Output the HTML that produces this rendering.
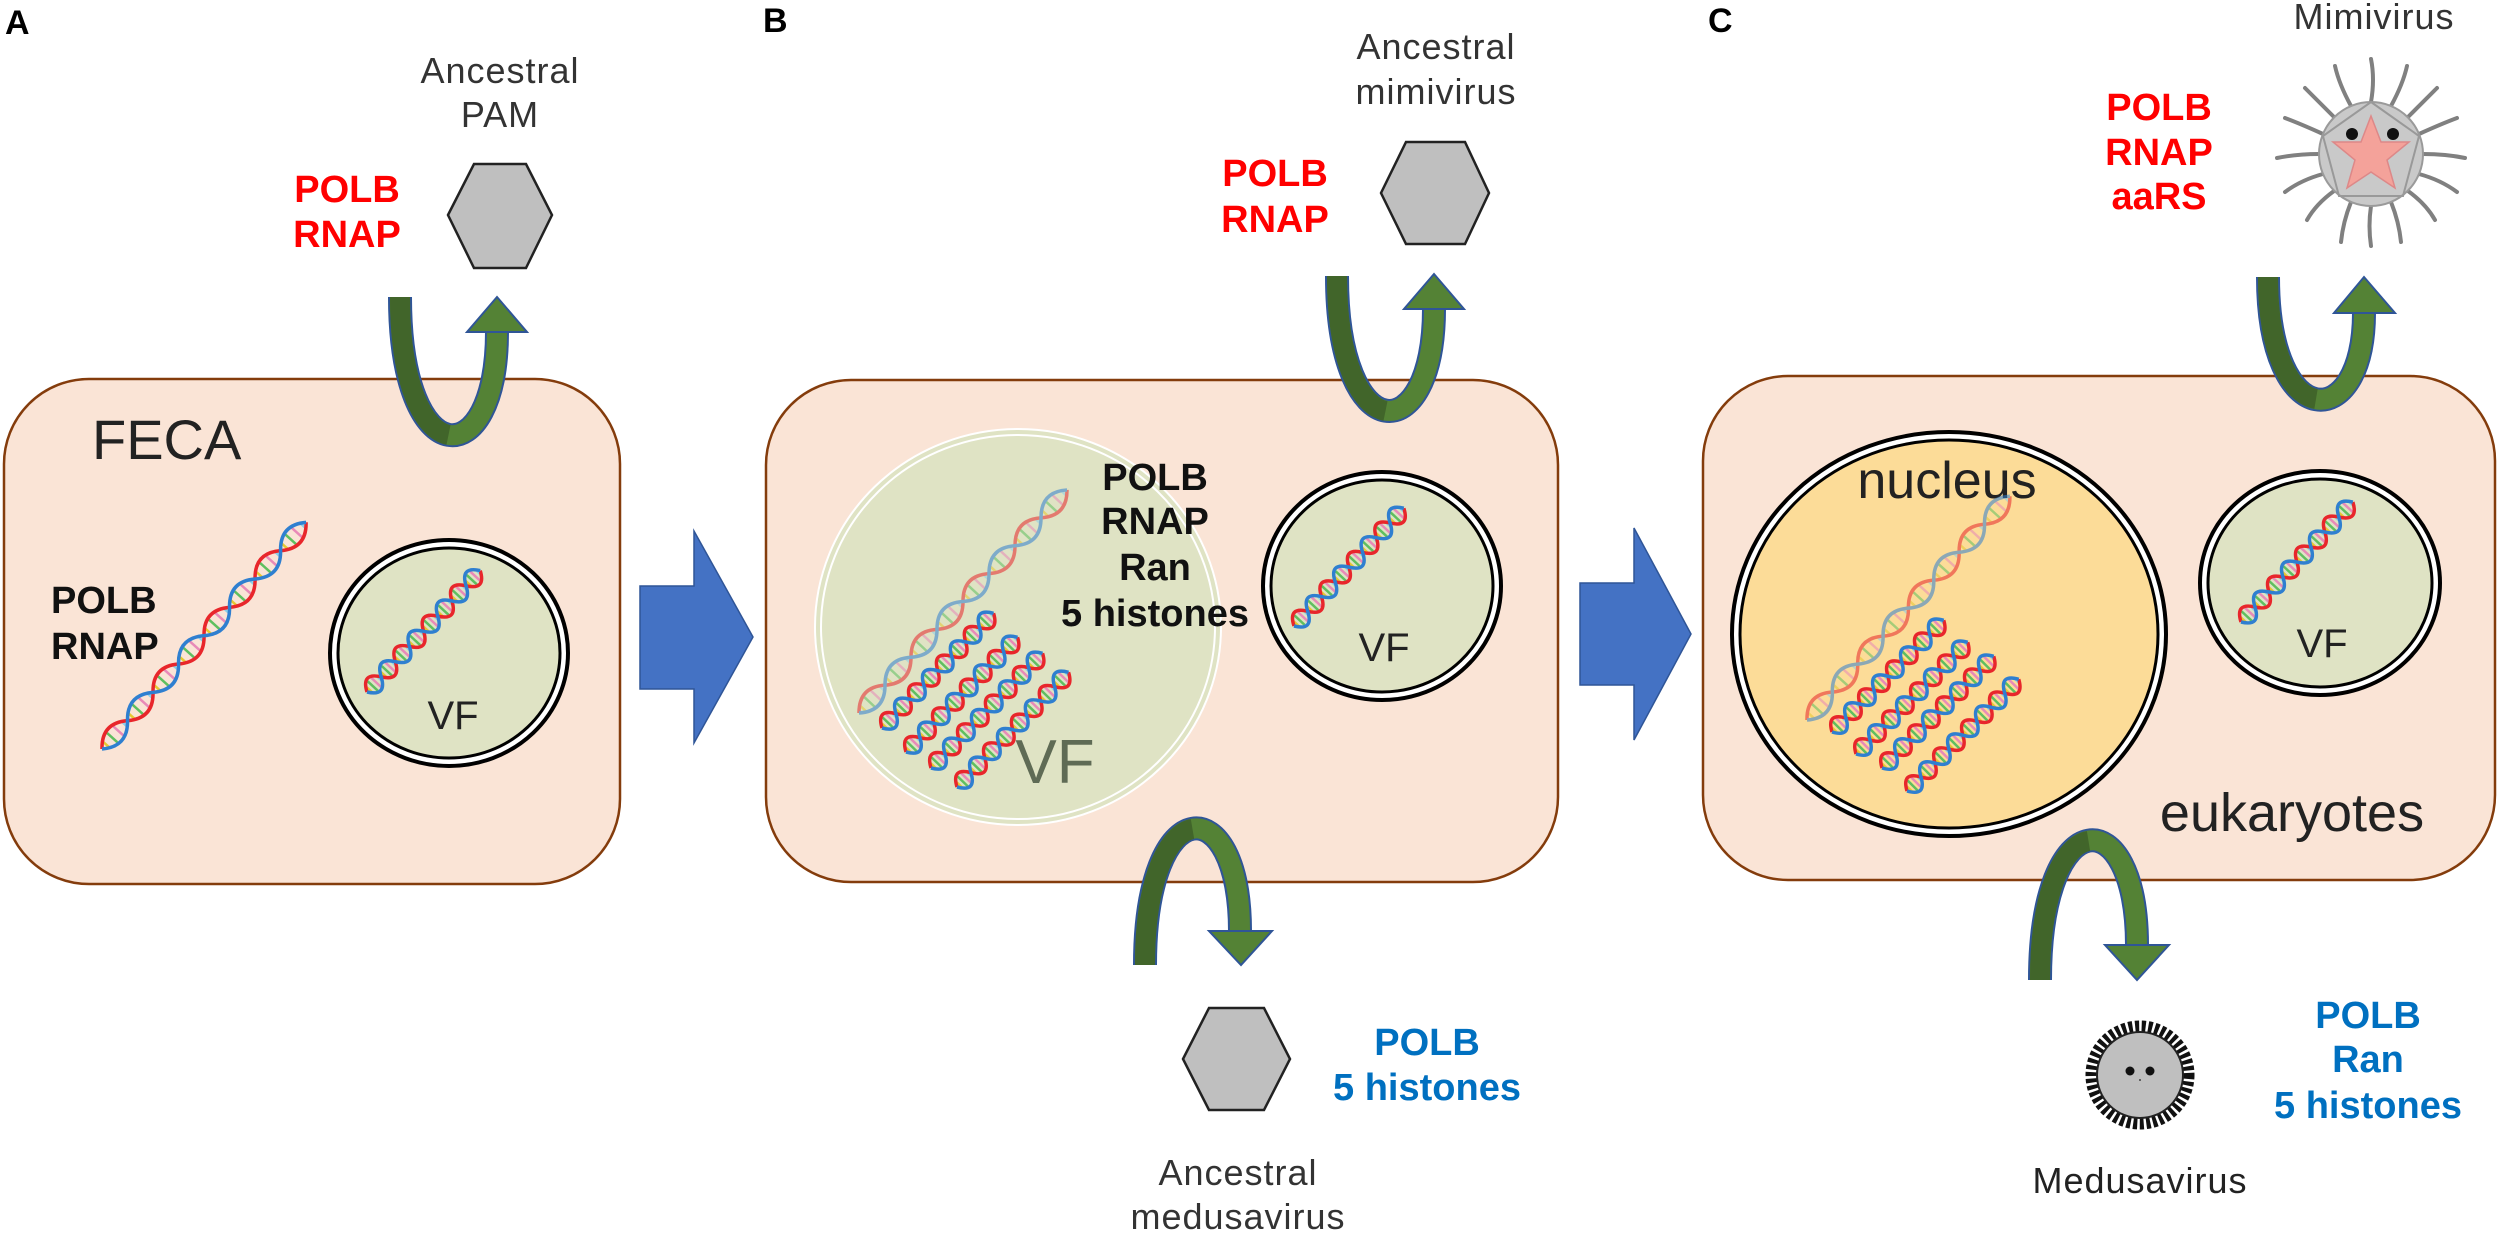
<!DOCTYPE html>
<html><head><meta charset="utf-8"><style>
html,body{margin:0;padding:0;background:#fff;}
svg{display:block;}
text{font-family:"Liberation Sans","DejaVu Sans",sans-serif;}
.t{fill:#222;}
.b{font-weight:bold;}
</style></head><body>
<svg width="2500" height="1234" viewBox="0 0 2500 1234" xmlns="http://www.w3.org/2000/svg">
<defs>
<g id="dna">
<g stroke-width="2.5">
<line x1="2" y1="-5" x2="2" y2="5" stroke="#e6c830" vector-effect="non-scaling-stroke"/>
<line x1="5" y1="-7" x2="5" y2="7" stroke="#5fbf5f" vector-effect="non-scaling-stroke"/>
<line x1="8" y1="-7" x2="8" y2="7" stroke="#e88ab8" vector-effect="non-scaling-stroke"/>
<line x1="11" y1="-5" x2="11" y2="5" stroke="#8ccfe8" vector-effect="non-scaling-stroke"/>
<line x1="14.5" y1="-5" x2="14.5" y2="5" stroke="#e6c830" vector-effect="non-scaling-stroke"/>
<line x1="17.5" y1="-7" x2="17.5" y2="7" stroke="#5fbf5f" vector-effect="non-scaling-stroke"/>
<line x1="20.5" y1="-7" x2="20.5" y2="7" stroke="#e88ab8" vector-effect="non-scaling-stroke"/>
<line x1="23.5" y1="-5" x2="23.5" y2="5" stroke="#8ccfe8" vector-effect="non-scaling-stroke"/>
<line x1="27" y1="-5" x2="27" y2="5" stroke="#e6c830" vector-effect="non-scaling-stroke"/>
<line x1="30" y1="-7" x2="30" y2="7" stroke="#5fbf5f" vector-effect="non-scaling-stroke"/>
<line x1="33" y1="-7" x2="33" y2="7" stroke="#e88ab8" vector-effect="non-scaling-stroke"/>
<line x1="36" y1="-5" x2="36" y2="5" stroke="#8ccfe8" vector-effect="non-scaling-stroke"/>
<line x1="39.5" y1="-5" x2="39.5" y2="5" stroke="#e6c830" vector-effect="non-scaling-stroke"/>
<line x1="42.5" y1="-7" x2="42.5" y2="7" stroke="#5fbf5f" vector-effect="non-scaling-stroke"/>
<line x1="45.5" y1="-7" x2="45.5" y2="7" stroke="#e88ab8" vector-effect="non-scaling-stroke"/>
<line x1="48.5" y1="-5" x2="48.5" y2="5" stroke="#8ccfe8" vector-effect="non-scaling-stroke"/>
<line x1="52" y1="-5" x2="52" y2="5" stroke="#e6c830" vector-effect="non-scaling-stroke"/>
<line x1="55" y1="-7" x2="55" y2="7" stroke="#5fbf5f" vector-effect="non-scaling-stroke"/>
<line x1="58" y1="-7" x2="58" y2="7" stroke="#e88ab8" vector-effect="non-scaling-stroke"/>
<line x1="61" y1="-5" x2="61" y2="5" stroke="#8ccfe8" vector-effect="non-scaling-stroke"/>
<line x1="64.5" y1="-5" x2="64.5" y2="5" stroke="#e6c830" vector-effect="non-scaling-stroke"/>
<line x1="67.5" y1="-7" x2="67.5" y2="7" stroke="#5fbf5f" vector-effect="non-scaling-stroke"/>
<line x1="70.5" y1="-7" x2="70.5" y2="7" stroke="#e88ab8" vector-effect="non-scaling-stroke"/>
<line x1="73.5" y1="-5" x2="73.5" y2="5" stroke="#8ccfe8" vector-effect="non-scaling-stroke"/>
<line x1="77" y1="-5" x2="77" y2="5" stroke="#e6c830" vector-effect="non-scaling-stroke"/>
<line x1="80" y1="-7" x2="80" y2="7" stroke="#5fbf5f" vector-effect="non-scaling-stroke"/>
<line x1="83" y1="-7" x2="83" y2="7" stroke="#e88ab8" vector-effect="non-scaling-stroke"/>
<line x1="86" y1="-5" x2="86" y2="5" stroke="#8ccfe8" vector-effect="non-scaling-stroke"/>
<line x1="89.5" y1="-5" x2="89.5" y2="5" stroke="#e6c830" vector-effect="non-scaling-stroke"/>
<line x1="92.5" y1="-7" x2="92.5" y2="7" stroke="#5fbf5f" vector-effect="non-scaling-stroke"/>
<line x1="95.5" y1="-7" x2="95.5" y2="7" stroke="#e88ab8" vector-effect="non-scaling-stroke"/>
<line x1="98.5" y1="-5" x2="98.5" y2="5" stroke="#8ccfe8" vector-effect="non-scaling-stroke"/>
</g>
<path d="M0,0 q6.25,-18 12.5,0 t12.5,0 t12.5,0 t12.5,0 t12.5,0 t12.5,0 t12.5,0 t12.5,0" fill="none" stroke="#e8262b" stroke-width="3.5" vector-effect="non-scaling-stroke"/>
<path d="M0,0 q6.25,18 12.5,0 t12.5,0 t12.5,0 t12.5,0 t12.5,0 t12.5,0 t12.5,0 t12.5,0" fill="none" stroke="#2f7fd0" stroke-width="3.5" vector-effect="non-scaling-stroke"/>
</g>
</defs>

<text x="5" y="34" class="b" font-size="34" fill="#000">A</text>
<text x="763" y="32" class="b" font-size="34" fill="#000">B</text>
<text x="1708" y="32" class="b" font-size="34" fill="#000">C</text>

<!-- ===== A ===== -->
<rect x="4" y="379" width="616" height="505" rx="85" fill="#fae4d6" stroke="#843c0c" stroke-width="2.5"/>
<text x="92" y="459" font-size="56" class="t">FECA</text>
<text x="51" y="613" font-size="38" class="b" fill="#111">POLB</text>
<text x="51" y="659" font-size="38" class="b" fill="#111">RNAP</text>
<use href="#dna" transform="translate(102,749) rotate(-48) scale(3.05,1)"/>
<ellipse cx="449" cy="653" rx="119" ry="113" fill="#fff" stroke="#000" stroke-width="4"/>
<ellipse cx="449" cy="653" rx="111" ry="105" fill="#dfe3c4" stroke="#000" stroke-width="3"/>
<use href="#dna" transform="translate(367,692) rotate(-47) scale(1.66,1)"/>
<text x="453" y="729" font-size="40" class="t" text-anchor="middle">VF</text>
<polygon points="640,586 694,586 694,531 753,637 694,743 694,689 640,689" fill="#4472c4" stroke="#2f5597" stroke-width="1.5"/>

<polygon points="448,215 474,164 526,164 552,215 526,268 474,268" fill="#bfbfbf" stroke="#222" stroke-width="2.5"/>
<text x="500" y="83" font-size="36" fill="#333" text-anchor="middle" letter-spacing="1">Ancestral</text>
<text x="500" y="127" font-size="36" fill="#333" text-anchor="middle" letter-spacing="1">PAM</text>
<text x="347" y="202" font-size="38" class="b" fill="#ff0000" text-anchor="middle">POLB</text>
<text x="347" y="247" font-size="38" class="b" fill="#ff0000" text-anchor="middle">RNAP</text>

<g>
<path d="M400,297 C400,475 497,475 497,332" fill="none" stroke="#2f5597" stroke-width="24"/>
<path d="M400,297 C400,475 497,475 497,332" fill="none" stroke="#548235" stroke-width="20"/>
<path d="M400,297 C400,386 424,430 448.5,435" fill="none" stroke="#41652a" stroke-width="20"/>
<polygon points="467,332 527,332 497,297" fill="#548235" stroke="#2f5597" stroke-width="2"/>
</g>

<!-- ===== B ===== -->
<rect x="766" y="380" width="792" height="502" rx="85" fill="#fae4d6" stroke="#843c0c" stroke-width="2.5"/>
<ellipse cx="1018" cy="627" rx="203" ry="198" fill="#dfe3c4" stroke="#fff" stroke-width="2"/>
<ellipse cx="1018" cy="627" rx="197" ry="192" fill="none" stroke="#fff" stroke-width="2"/>
<text x="1055" y="783" font-size="62" fill="#5f6b55" text-anchor="middle">VF</text>
<g opacity="0.55"><use href="#dna" transform="translate(859,713) rotate(-47) scale(3.05,1)"/></g>
<use href="#dna" transform="translate(882,728) rotate(-45.8) scale(1.6,1)"/>
<use href="#dna" transform="translate(906,752) rotate(-45.8) scale(1.6,1)"/>
<use href="#dna" transform="translate(931,768) rotate(-45.8) scale(1.6,1)"/>
<use href="#dna" transform="translate(957,787) rotate(-45.8) scale(1.6,1)"/>
<text x="1155" y="490" font-size="38" class="b" fill="#111" text-anchor="middle">POLB</text>
<text x="1155" y="534" font-size="38" class="b" fill="#111" text-anchor="middle">RNAP</text>
<text x="1155" y="580" font-size="38" class="b" fill="#111" text-anchor="middle">Ran</text>
<text x="1155" y="626" font-size="38" class="b" fill="#111" text-anchor="middle">5 histones</text>
<ellipse cx="1382" cy="586" rx="119" ry="114" fill="#fff" stroke="#000" stroke-width="4"/>
<ellipse cx="1382" cy="586" rx="111" ry="106" fill="#dfe3c4" stroke="#000" stroke-width="3"/>
<use href="#dna" transform="translate(1294,626) rotate(-47) scale(1.61,1)"/>
<text x="1384" y="661" font-size="40" class="t" text-anchor="middle">VF</text>
<polygon points="1580,583 1634,583 1634,528 1691,634 1634,740 1634,685 1580,685" fill="#4472c4" stroke="#2f5597" stroke-width="1.5"/>

<polygon points="1381,193 1406,142 1465,142 1489,193 1465,244 1406,244" fill="#bfbfbf" stroke="#222" stroke-width="2.5"/>
<text x="1436" y="59" font-size="36" fill="#333" text-anchor="middle" letter-spacing="1">Ancestral</text>
<text x="1436" y="104" font-size="36" fill="#333" text-anchor="middle" letter-spacing="1">mimivirus</text>
<text x="1275" y="186" font-size="38" class="b" fill="#ff0000" text-anchor="middle">POLB</text>
<text x="1275" y="232" font-size="38" class="b" fill="#ff0000" text-anchor="middle">RNAP</text>
<g>
<path d="M1337,276 C1337,450 1434,450 1434,309" fill="none" stroke="#2f5597" stroke-width="24"/>
<path d="M1337,276 C1337,450 1434,450 1434,309" fill="none" stroke="#548235" stroke-width="20"/>
<path d="M1337,276 C1337,363 1361,406 1385.5,411" fill="none" stroke="#41652a" stroke-width="20"/>
<polygon points="1404,309 1464,309 1434,274" fill="#548235" stroke="#2f5597" stroke-width="2"/>
</g>
<g>
<path d="M1145,965 C1145,789 1240,789 1240,931" fill="none" stroke="#2f5597" stroke-width="24"/>
<path d="M1145,965 C1145,789 1240,789 1240,931" fill="none" stroke="#548235" stroke-width="20"/>
<path d="M1145,965 C1145,877 1169,833 1192.5,829" fill="none" stroke="#41652a" stroke-width="20"/>
<polygon points="1209,931 1272,931 1241,965" fill="#548235" stroke="#2f5597" stroke-width="2"/>
</g>
<polygon points="1183,1059 1209,1008 1264,1008 1290,1059 1264,1110 1209,1110" fill="#bfbfbf" stroke="#222" stroke-width="2.5"/>
<text x="1238" y="1185" font-size="36" fill="#333" text-anchor="middle" letter-spacing="1">Ancestral</text>
<text x="1238" y="1229" font-size="36" fill="#333" text-anchor="middle" letter-spacing="1">medusavirus</text>
<text x="1427" y="1055" font-size="38" class="b" fill="#0070c0" text-anchor="middle">POLB</text>
<text x="1427" y="1100" font-size="38" class="b" fill="#0070c0" text-anchor="middle">5 histones</text>

<!-- ===== C ===== -->
<rect x="1703" y="376" width="792" height="504" rx="85" fill="#fae4d6" stroke="#843c0c" stroke-width="2.5"/>
<ellipse cx="1949" cy="634" rx="217" ry="202" fill="#fff" stroke="#000" stroke-width="4"/>
<ellipse cx="1949" cy="634" rx="209" ry="194" fill="#fcdc98" stroke="#000" stroke-width="3"/>
<text x="1947" y="498" font-size="52" class="t" text-anchor="middle">nucleus</text>
<g opacity="0.55"><use href="#dna" transform="translate(1807,720) rotate(-47.8) scale(3.02,1)"/></g>
<use href="#dna" transform="translate(1832,732) rotate(-45) scale(1.58,1)"/>
<use href="#dna" transform="translate(1856,754) rotate(-45) scale(1.58,1)"/>
<use href="#dna" transform="translate(1882,768) rotate(-45) scale(1.58,1)"/>
<use href="#dna" transform="translate(1907,791) rotate(-45) scale(1.58,1)"/>
<ellipse cx="2320" cy="583" rx="120" ry="112" fill="#fff" stroke="#000" stroke-width="4"/>
<ellipse cx="2320" cy="583" rx="112" ry="104" fill="#dfe3c4" stroke="#000" stroke-width="3"/>
<use href="#dna" transform="translate(2241,622) rotate(-47) scale(1.64,1)"/>
<text x="2322" y="657" font-size="40" class="t" text-anchor="middle">VF</text>
<text x="2292" y="831" font-size="54" class="t" text-anchor="middle">eukaryotes</text>

<text x="2374" y="29" font-size="36" fill="#333" text-anchor="middle" letter-spacing="1">Mimivirus</text>
<text x="2159" y="120" font-size="38" class="b" fill="#ff0000" text-anchor="middle">POLB</text>
<text x="2159" y="165" font-size="38" class="b" fill="#ff0000" text-anchor="middle">RNAP</text>
<text x="2159" y="209" font-size="38" class="b" fill="#ff0000" text-anchor="middle">aaRS</text>
<g transform="translate(2371,154)" stroke="#808080" stroke-width="4" fill="none" stroke-linecap="round">
<path d="M0,-52 Q4,-75 0,-95"/>
<path d="M20,-48 Q32,-70 36,-88"/>
<path d="M-20,-48 Q-32,-70 -36,-88"/>
<path d="M37,-37 Q55,-55 66,-66"/>
<path d="M-37,-37 Q-55,-55 -66,-66"/>
<path d="M48,-20 Q70,-30 86,-36"/>
<path d="M-48,-20 Q-70,-30 -86,-36"/>
<path d="M52,0 Q75,0 94,4"/>
<path d="M-52,0 Q-75,0 -94,4"/>
<path d="M48,20 Q70,26 86,38"/>
<path d="M-48,20 Q-70,26 -86,38"/>
<path d="M37,37 Q55,50 64,66"/>
<path d="M-37,37 Q-55,50 -64,66"/>
<path d="M20,48 Q28,68 30,88"/>
<path d="M-20,48 Q-28,68 -30,88"/>
<path d="M0,52 Q-3,72 0,92"/>
<circle cx="0" cy="0" r="52" fill="#c9c9c9" stroke="#9a9a9a" stroke-width="2"/>
<polygon points="0,-52 48,-18 32,42 -32,42 -48,-18" fill="none" stroke="#999" stroke-width="2"/>
<polygon points="0,-38 10,-12 38,-12 16,6 24,34 0,18 -24,34 -16,6 -38,-12 -10,-12" fill="#f4a29a" stroke="#d88" stroke-width="1.5"/>
<circle cx="-19" cy="-20" r="6" fill="#111" stroke="none"/>
<circle cx="22" cy="-20" r="6" fill="#111" stroke="none"/>
</g>
<g>
<path d="M2268,277 C2268,434 2364,434 2364,313" fill="none" stroke="#2f5597" stroke-width="24"/>
<path d="M2268,277 C2268,434 2364,434 2364,313" fill="none" stroke="#548235" stroke-width="20"/>
<path d="M2268,277 C2268,356 2292,395 2316,399" fill="none" stroke="#41652a" stroke-width="20"/>
<polygon points="2334,313 2395,313 2364,277" fill="#548235" stroke="#2f5597" stroke-width="2"/>
</g>
<g>
<path d="M2040,980 C2040,800 2137,800 2137,945" fill="none" stroke="#2f5597" stroke-width="24"/>
<path d="M2040,980 C2040,800 2137,800 2137,945" fill="none" stroke="#548235" stroke-width="20"/>
<path d="M2040,980 C2040,890 2064,845 2088.5,841" fill="none" stroke="#41652a" stroke-width="20"/>
<polygon points="2105,945 2169,945 2137,980" fill="#548235" stroke="#2f5597" stroke-width="2"/>
</g>
<g transform="translate(2140,1075)">
<circle r="48" fill="none" stroke="#111" stroke-width="13" stroke-dasharray="4 2.5"/>
<circle r="43" fill="#bfbfbf" stroke="#222" stroke-width="2"/>
<circle cx="-10" cy="-4" r="4.5" fill="#111"/>
<circle cx="10" cy="-4" r="4.5" fill="#111"/>
<circle cx="0" cy="5" r="1" fill="#444"/>
</g>
<text x="2140" y="1193" font-size="36" fill="#222" text-anchor="middle" letter-spacing="1">Medusavirus</text>
<text x="2368" y="1028" font-size="38" class="b" fill="#0070c0" text-anchor="middle">POLB</text>
<text x="2368" y="1072" font-size="38" class="b" fill="#0070c0" text-anchor="middle">Ran</text>
<text x="2368" y="1118" font-size="38" class="b" fill="#0070c0" text-anchor="middle">5 histones</text>
</svg>
</body></html>
